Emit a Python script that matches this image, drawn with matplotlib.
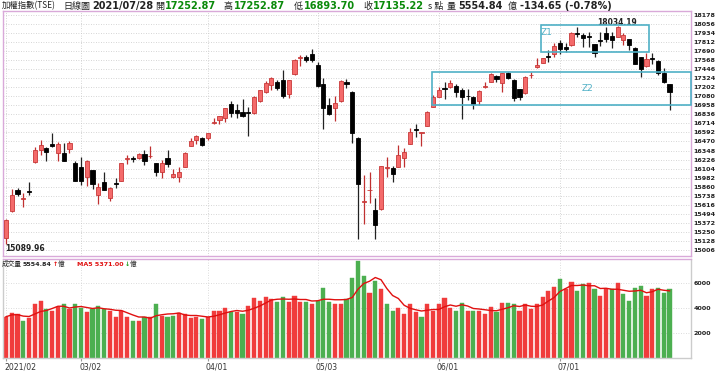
import matplotlib
matplotlib.use("Agg")
import matplotlib.pyplot as plt
from matplotlib.patches import Rectangle
from matplotlib.transforms import ScaledTranslation
import numpy as np

# ---------------- data ----------------
opens = [15165, 15530, 15815, 15695, 15800, 16189, 16355, 16378, 16436, 16311, 16320, 16364, 16184,
         16121, 15987, 16085, 15748, 15928, 15703, 15910, 15941, 16235, 16248, 16243, 16301, 16270, 16175, 16054,
         16243, 15987, 15995, 16131, 16414, 16490, 16522,
         16522, 16720, 16760, 16783, 16972, 16895, 16864, 16868, 16851, 17017, 17143, 17233, 17278, 17300, 17107,
         17377, 17600, 17615, 17647,
         17503, 17242, 16962, 16918, 17017, 17278, 17143, 16513, 15650, 15810, 15546, 15555, 16112, 16108, 16130,
         16243, 16436, 16640, 16585, 16684, 16940,
         17075, 17190, 17202, 17220, 17165, 17088, 17075, 17021, 17205, 17278, 17354, 17256, 17391, 17300, 17175,
         17120, 17362, 17472, 17534, 17620, 17651,
         17795, 17750, 17773, 17935, 17908, 17888, 17782, 17835, 17931, 17894, 17885, 17840, 17849, 17728, 17607,
         17489, 17595, 17561, 17399, 17252.87]
highs = [15420, 15825, 15840, 15771, 15928, 16390, 16490, 16390, 16581, 16463, 16454, 16481, 16200,
         16265, 16215, 16090, 15916, 16060, 15850, 15973, 16180, 16288, 16274, 16319, 16355, 16409, 16185, 16220,
         16355, 16094, 16131, 16333, 16522, 16555, 16530,
         16590, 16783, 16820, 16925, 17017, 16972, 17044, 16940, 17085, 17170, 17287, 17345, 17300, 17435, 17305,
         17580, 17638, 17638, 17719,
         17548, 17332, 17062, 17085, 17300, 17310, 17150, 16535, 16018, 16063, 15703, 16145, 16265, 16140, 16423,
         16378, 16648, 16706, 16600, 16886, 17098,
         17210, 17278, 17300, 17247, 17188, 17175, 17080, 17160, 17278, 17390, 17368, 17400, 17413, 17310, 17180,
         17355, 17413, 17593, 17600, 17705, 17796,
         17840, 17796, 17953, 18012, 17931, 17953, 17790, 17953, 18020, 17953, 18034.19, 17939, 17855, 17750, 17615,
         17669, 17669, 17570, 17458, 17252.87]
lows = [15089.96, 15520, 15730, 15590, 15748, 16180, 16288, 16207, 16398, 16207, 16200, 16320, 15930,
        15883, 15870, 15825, 15622, 15810, 15660, 15838, 15935, 16166, 16198, 16240, 16153, 16243, 16004, 15973,
        16131, 15973, 15929, 16125, 16410, 16432, 16415,
        16490, 16702, 16702, 16729, 16805, 16792, 16805, 16549, 16845, 16999, 17129, 17165, 17165, 17062, 17053,
        17370, 17494, 17548, 17548,
        17210, 16639, 16828, 16751, 17010, 17188, 16454, 15150, 15356, 15636, 15150, 15550, 15995, 15928, 16125,
        16131, 16430, 16527, 16409, 16680, 16935,
        17067, 17044, 17195, 17067, 16770, 17030, 16905, 16963, 17188, 17270, 17278, 17143, 17320, 17015, 17030,
        17115, 17323, 17465, 17530, 17548, 17615,
        17651, 17683, 17765, 17885, 17750, 17750, 17607, 17759, 17818, 17728, 17880, 17773, 17705, 17510, 17345,
        17480, 17516, 17368, 17255, 16893.70]
closes = [15410.09, 15750, 15757, 15710, 15790, 16355, 16423, 16333, 16405, 16436, 16207, 16454, 15941,
          15937, 16207, 15896, 15852, 15815, 15847, 15900, 16175, 16250, 16240, 16301, 16207, 16280, 16063, 16184,
          16166, 16027, 16063, 16311, 16477, 16549, 16423,
          16581, 16730, 16814, 16918, 16851, 16859, 16819, 16860, 17075, 17161, 17256, 17323, 17197, 17089, 17300,
          17570, 17612, 17570, 17570,
          17219, 16927, 16837, 16994, 17287, 17247, 16581, 15896, 15665, 15820, 15343, 16141, 16122, 16031, 16286,
          16333, 16594, 16630, 16593, 16864, 17067,
          17165, 17185, 17256, 17143, 17067, 17080, 16977, 17156, 17215, 17377, 17310, 17391, 17323, 17053, 17075,
          17345, 17372, 17503, 17593, 17610, 17759,
          17715, 17715, 17931, 17928, 17863, 17882, 17669, 17828, 17854, 17840, 18020, 17908, 17773, 17516, 17449,
          17580, 17590, 17399, 17269.87, 17135.22]
volumes = [3300, 3600, 3500, 3000, 3200, 4300, 4600, 3900, 3800, 4100, 4300, 3900, 4300,
           4000, 3700, 3900, 4200, 3900, 3800, 3300, 3800, 3300, 3000, 3000, 3300, 3300, 4300, 3400,
           3300, 3400, 3600, 3500, 3200, 3300, 3100,
           3300, 3800, 3800, 4000, 3700, 3700, 3500, 4200, 4800, 4600, 4900, 4700, 4500, 4900, 4500,
           5000, 4500, 4500, 4300,
           4600, 5600, 4500, 4300, 4300, 4700, 6400, 7800, 6600, 5200, 6200, 5500, 4300, 3800, 4000,
           3500, 4300, 3700, 3300, 4300, 3800,
           4300, 4800, 4000, 3800, 4400, 3800, 3800, 3800, 3500, 4100, 3700, 4400, 4400, 4300, 3800,
           4300, 3900, 4300, 4900, 5400, 5700,
           6300, 5500, 6100, 5400, 5900, 6000, 5500, 5000, 5500, 5500, 6000, 5100, 4600, 5600, 5800,
           5000, 5500, 5600, 5200, 5554.84]
month_idx = [0, 13, 35, 54, 75, 96]
month_labels = ["2021/02", "03/02", "04/01", "05/03", "06/01", "07/01"]
price_ticks = [15006 + 122 * k for k in range(27)]
vol_ticks = [2000, 4000, 6000]

# ---------------- figure ----------------
W, H = 720, 372
fig = plt.figure(figsize=(W / 100, H / 100), dpi=100)
fig.patch.set_facecolor("white")
CJK = ["Noto Sans CJK TC", "DejaVu Sans"]

def fx(px):
    return px / W

def fy(py):
    return 1 - py / H

LEFT, RIGHT = 3, 691
XR = (RIGHT - 6) / 5.77
ax = fig.add_axes([fx(LEFT), fy(256), (RIGHT - LEFT) / W, (256 - 11) / H])
axv = fig.add_axes([fx(LEFT), fy(358), (RIGHT - LEFT) / W, (358 - 259) / H])

n = len(closes)
x = np.arange(n)
o = np.array(opens, float)
c = np.array(closes, float)
hi = np.array(highs, float)
lo = np.array(lows, float)
up = c >= o

RED_FILL = "#f46a6a"
RED_EDGE = "#c83838"
RED_WICK = "#c03030"

wick_cols = [RED_WICK if u else "#222222" for u in up]
ax.vlines(x, lo, hi, colors=wick_cols, linewidth=0.9, zorder=2)
body_h = np.maximum(np.abs(c - o), 9)
body_b = np.minimum(o, c)
ax.bar(x, body_h, bottom=body_b, width=0.72,
       color=[RED_FILL if u else "black" for u in up],
       edgecolor=[RED_EDGE if u else "black" for u in up], linewidth=0.6, zorder=3)

ax.set_xlim(-0.52, XR)
ax.set_ylim(14924, 18232)
ax.yaxis.tick_right()
ax.set_yticks(price_ticks)
ax.set_yticklabels([str(t) for t in price_ticks], fontsize=4.6, fontweight="bold", color="#222222")
ax.tick_params(axis="y", length=0, pad=2)
ax.set_xticks([])
for t in price_ticks:
    ax.axhline(t, color="#c8c8c8", linewidth=0.6, linestyle=(0, (1, 2)), zorder=0)
for m in month_idx:
    ax.axvline(m, color="#c8c8c8", linewidth=0.6, linestyle=(0, (1, 2)), zorder=0)
for s in ax.spines.values():
    s.set_color("#d9a9d9")
    s.set_linewidth(1.0)

# Zones
BOX = "#4fb0c6"
ax.add_patch(Rectangle((92.7, 17683), 18.8, 360, fill=False, edgecolor=BOX, linewidth=1.2, zorder=4))
ax.add_patch(Rectangle((73.8, 16963), XR - 73.8, 441, fill=False, edgecolor=BOX, linewidth=1.2, zorder=4,
                       clip_on=False))
ax.text(93.6, 17939, "Z1", color=BOX, fontsize=6.5, ha="center", va="center")
ax.text(100.7, 17179, "Z2", color=BOX, fontsize=6.5, ha="center", va="center")
ax.text(105.9, 18083, "18034.19", fontsize=5.5, fontweight="bold", ha="center", va="center", color="#222222")
ax.text(-0.2, 15032, "15089.96", fontsize=5.5, fontweight="bold", ha="left", va="center", color="#222222")

# Volume
prev = np.concatenate([[c[0] - 1], c[:-1]])
vcol = ["#f03c3c" if cc >= pp else "#4caf50" for cc, pp in zip(c, prev)]
axv.bar(x, volumes, width=0.72, color=vcol, edgecolor=vcol, linewidth=0.3, zorder=2)
ma5 = np.convolve(volumes, np.ones(5) / 5, mode="full")[:n]
cnt = np.minimum(np.arange(1, n + 1), 5)
ma5 = ma5 * 5 / cnt
axv.plot(x, ma5, color="#e01010", linewidth=1.0, zorder=3)
axv.set_xlim(-0.52, XR)
axv.set_ylim(0, 7920)
axv.yaxis.tick_right()
axv.set_yticks(vol_ticks)
axv.set_yticklabels([str(t) for t in vol_ticks], fontsize=4.6, fontweight="bold", color="#222222")
axv.tick_params(axis="y", length=0, pad=2)
axv.set_xticks(month_idx)
axv.set_xticklabels(month_labels, fontsize=5.6, color="#333333", ha="left")
axv.tick_params(axis="x", length=2.5, color="#999999", pad=1)
shift = ScaledTranslation(-2 / 100, 0, fig.dpi_scale_trans)
for lab in axv.get_xticklabels():
    lab.set_transform(lab.get_transform() + shift)
for t in vol_ticks:
    axv.axhline(t, color="#d0d0d0", linewidth=0.6, linestyle=(0, (1, 2)), zorder=0)
for m in month_idx:
    axv.axvline(m, color="#d0d0d0", linewidth=0.6, linestyle=(0, (1, 2)), zorder=0)
for k, s in axv.spines.items():
    s.set_color("#cccccc")
    s.set_linewidth(1.0)
axv.spines["top"].set_color("#d9a9d9")

# Header texts (pixel positions)
def ptxt(px, py, s, **kw):
    fig.text(fx(px), fy(py), s, va="center", ha="left", **kw)

GREEN = "#0a8a0a"
ptxt(2, 6, "加權指數(TSE)", fontsize=6.0, family=CJK, color="#222222")
ptxt(63, 6, "日線圖", fontsize=6.5, family=CJK, color="#222222")
ptxt(92, 6, "2021/07/28", fontsize=7.0, fontweight="bold", color="#222222")
ptxt(155, 6, "開", fontsize=6.5, family=CJK, color="#222222")
ptxt(165, 6, "17252.87", fontsize=7.0, fontweight="bold", color=GREEN)
ptxt(224, 6, "高", fontsize=6.5, family=CJK, color="#222222")
ptxt(234, 6, "17252.87", fontsize=7.0, fontweight="bold", color=GREEN)
ptxt(294, 6, "低", fontsize=6.5, family=CJK, color="#222222")
ptxt(304, 6, "16893.70", fontsize=7.0, fontweight="bold", color=GREEN)
ptxt(363, 6, "收", fontsize=6.5, family=CJK, color="#222222")
ptxt(373, 6, "17135.22", fontsize=7.0, fontweight="bold", color=GREEN)
ptxt(428, 6, "s 點", fontsize=6.5, family=CJK, color="#222222")
ptxt(447, 6, "量", fontsize=6.5, family=CJK, color="#222222")
ptxt(458, 6, "5554.84", fontsize=7.0, fontweight="bold", color="#222222")
ptxt(508, 6, "億", fontsize=6.5, family=CJK, color="#222222")
ptxt(520, 6, "-134.65 (-0.78%)", fontsize=7.0, fontweight="bold", color="#222222")

# Volume header
ptxt(2, 264, "成交量", fontsize=4.8, family=CJK, color="#222222")
ptxt(22.5, 264, "5554.84", fontsize=4.6, fontweight="bold", color="#222222")
ptxt(52.5, 264, "↑", fontsize=4.6, fontweight="bold", color="#e01010")
ptxt(57.5, 264, "億", fontsize=4.8, family=CJK, color="#222222")
ptxt(77, 264, "MA5 5371.00", fontsize=4.6, fontweight="bold", color="#e01010")
ptxt(124.5, 264, "↓", fontsize=4.6, fontweight="bold", color="#1a9a1a")
ptxt(129.5, 264, "億", fontsize=4.8, family=CJK, color="#222222")

fig.savefig("out.png", dpi=100, facecolor="white")
